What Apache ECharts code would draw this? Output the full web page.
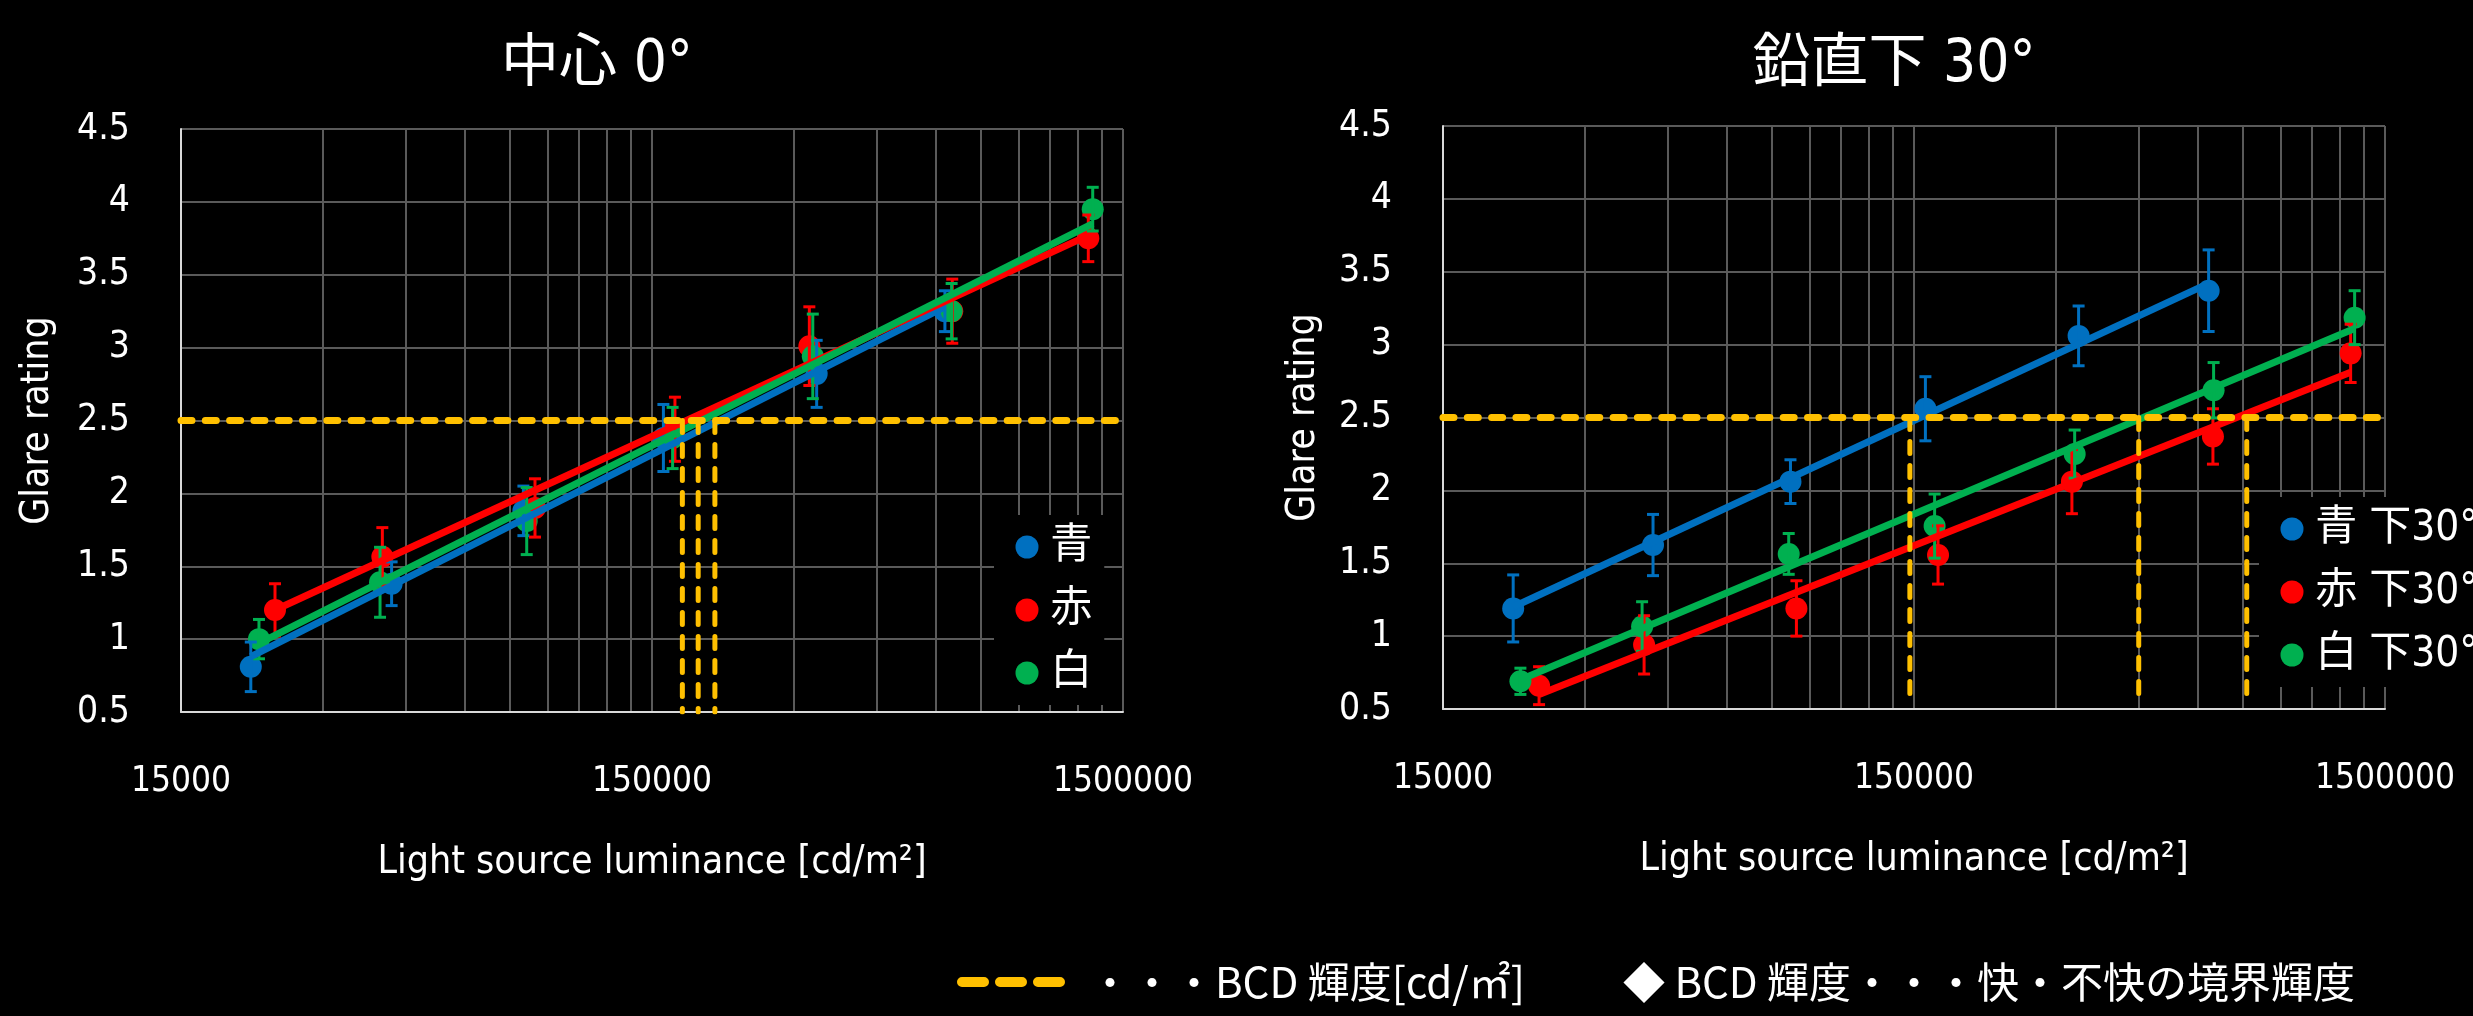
<!DOCTYPE html>
<html><head><meta charset="utf-8">
<script src="https://cdn.jsdelivr.net/npm/echarts@6/dist/echarts.min.js"></script>
<style>html,body{margin:0;padding:0;background:#000;}#c{width:2473px;height:1016px;}</style>
</head><body><div id="c"></div>
<script>
// ---------- axis / tick values ----------
const X_MIN = 15000, X_MAX = 1500000;
const xTickLabels = [15000, 150000, 1500000];
const xGridValues = [15000, 30000, 45000, 60000, 75000, 90000, 105000, 120000, 135000,
  150000, 300000, 450000, 600000, 750000, 900000, 1050000, 1200000, 1350000, 1500000];
const Y_MIN = 0.5, Y_MAX = 4.5, Y_STEP = 0.5;
const BCD_LEVEL = 2.5;

// ---------- chart 1: 中心 0° ----------
const c0Names = ['青', '赤', '白'];
const c0BlueL  = [21100, 42000, 80000, 158600, 335500, 628000];
const c0BlueG  = [0.81, 1.38, 1.88, 2.38, 2.82, 3.25];
const c0BlueE  = [0.17, 0.15, 0.17, 0.23, 0.23, 0.14];
const c0RedL   = [23750, 40140, 84660, 167800, 323700, 651000, 1266000];
const c0RedG   = [1.20, 1.565, 1.90, 2.44, 3.01, 3.25, 3.75];
const c0RedE   = [0.18, 0.20, 0.20, 0.22, 0.27, 0.22, 0.16];
const c0GreenL = [21960, 39690, 81300, 165900, 329200, 649000, 1293600];
const c0GreenG = [1.00, 1.39, 1.81, 2.38, 2.94, 3.25, 3.95];
const c0GreenE = [0.135, 0.24, 0.23, 0.21, 0.29, 0.19, 0.15];
const c0BlueFit  = [[21100, 0.88], [628000, 3.28]];
const c0RedFit   = [[23750, 1.20], [1266000, 3.77]];
const c0GreenFit = [[21960, 0.97], [1293600, 3.85]];
const c0BcdL = [174000, 188000, 204000];
const c0BcdBottom = 0.5;

// ---------- chart 2: 鉛直下 30° ----------
const c1Names = ['青 下30°', '赤 下30°', '白 下30°'];
const c1BlueL  = [21140, 41880, 82000, 158600, 335400, 633300];
const c1BlueG  = [1.19, 1.625, 2.06, 2.56, 3.06, 3.37];
const c1BlueE  = [0.23, 0.21, 0.15, 0.22, 0.205, 0.28];
const c1RedL   = [23990, 40090, 84420, 168700, 324600, 646800, 1268000];
const c1RedG   = [0.66, 0.94, 1.19, 1.557, 2.06, 2.37, 2.94];
const c1RedE   = [0.13, 0.20, 0.19, 0.20, 0.22, 0.19, 0.20];
const c1GreenL = [21900, 39700, 81300, 165900, 329000, 648900, 1293000];
const c1GreenG = [0.69, 1.066, 1.564, 1.755, 2.249, 2.687, 3.185];
const c1GreenE = [0.09, 0.17, 0.14, 0.22, 0.165, 0.19, 0.185];
const c1BlueFit  = [[21140, 1.20], [633300, 3.42]];
const c1RedFit   = [[23990, 0.60], [1268000, 2.81]];
const c1GreenFit = [[21900, 0.70], [1293000, 3.11]];
const c1BcdL = [147000, 450000, 763000];
const c1BcdBottom = 0.55;

// ---------- styles ----------
const BLUE = '#0070C0', RED = '#FF0000', GREEN = '#00B050', YELLOW = '#FFC000';
const GRIDC = '#5a5a5a', AXISC = '#d9d9d9';
const LATIN = "'DejaVu Sans Condensed', 'DejaVu Sans', 'Noto Sans CJK JP', sans-serif";
const CJK = "'Noto Sans CJK JP', sans-serif";

function errRender(params, api) {
  const x = api.value(0), lo = api.value(1), hi = api.value(2);
  const p1 = api.coord([x, hi]), p2 = api.coord([x, lo]);
  const color = api.visual('color');
  const w = 6, st = {stroke: color, lineWidth: 3};
  return {type: 'group', children: [
    {type: 'line', shape: {x1: p1[0], y1: p1[1], x2: p2[0], y2: p2[1]}, style: st},
    {type: 'line', shape: {x1: p1[0] - w, y1: p1[1], x2: p1[0] + w, y2: p1[1]}, style: st},
    {type: 'line', shape: {x1: p2[0] - w, y1: p2[1], x2: p2[0] + w, y2: p2[1]}, style: st}
  ]};
}

function seriesFor(gi, name, color, L, G, E, fit) {
  return [
    {type: 'scatter', name: name, xAxisIndex: gi, yAxisIndex: gi, z: 2,
     data: L.map((x, j) => [x, G[j]]), symbol: 'circle', symbolSize: 22,
     itemStyle: {color: color, opacity: 1}, silent: true},
    {type: 'custom', name: name + ' err', xAxisIndex: gi, yAxisIndex: gi, z: 3,
     data: L.map((x, j) => [x, G[j] - E[j], G[j] + E[j]]), encode: {x: 0, y: [1, 2]},
     renderItem: errRender, itemStyle: {color: color}, silent: true},
    {type: 'line', name: name + ' fit', xAxisIndex: gi, yAxisIndex: gi, z: 4,
     data: fit, symbol: 'none', lineStyle: {color: color, width: 7}, silent: true}
  ];
}
function bcdSeries(gi, xs, bottom) {
  const out = [{type: 'line', xAxisIndex: gi, yAxisIndex: gi, z: 5, symbol: 'none', silent: true,
    data: [[X_MIN, BCD_LEVEL], [X_MAX, BCD_LEVEL]],
    lineStyle: {color: YELLOW, width: 7, type: [11, 13.3], cap: 'round'}}];
  xs.forEach(x => out.push({type: 'line', xAxisIndex: gi, yAxisIndex: gi, z: 5, symbol: 'none', silent: true,
    data: [[x, BCD_LEVEL], [x, bottom]],
    lineStyle: {color: YELLOW, width: 5, type: [12, 12], cap: 'round'}}));
  return out;
}

function xAxis(gi) {
  return {type: 'log', logBase: 10, gridIndex: gi, min: X_MIN, max: X_MAX,
    name: 'Light source luminance [cd/m²]', nameLocation: 'middle', nameGap: 131,
    nameTextStyle: {color: '#fff', fontSize: 39, lineHeight: 39, fontFamily: LATIN},
    axisLine: {show: true, lineStyle: {color: AXISC, width: 2}},
    axisTick: {show: false, customValues: xGridValues},
    axisLabel: {customValues: xTickLabels, color: '#fff', fontSize: 35, lineHeight: 35, margin: 52,
      fontFamily: LATIN, formatter: v => String(Math.round(v))},
    splitLine: {show: true, lineStyle: {color: GRIDC, width: 2}}};
}
function yAxis(gi, gap) {
  return {type: 'value', gridIndex: gi, min: Y_MIN, max: Y_MAX, interval: Y_STEP,
    name: 'Glare rating', nameLocation: 'middle', nameGap: gap,
    nameTextStyle: {color: '#fff', fontSize: 39, lineHeight: 39, fontFamily: LATIN},
    axisLine: {show: true, lineStyle: {color: AXISC, width: 2}},
    axisTick: {show: false},
    axisLabel: {color: '#fff', fontSize: 37, margin: 51, fontFamily: LATIN},
    splitLine: {show: true, lineStyle: {color: GRIDC, width: 2}}};
}
function legend(left, top, names) {
  return {orient: 'vertical', left: left, top: top, data: names, icon: 'circle',
    itemWidth: 36.5, itemHeight: 23, itemGap: 21, padding: [11, 12, 11, 21.5],
    backgroundColor: '#000', selectedMode: false,
    textStyle: {color: '#fff', fontSize: 42, lineHeight: 42, fontFamily: LATIN}};
}

const chart = echarts.init(document.getElementById('c'), null, {width: 2473, height: 1016});
chart.setOption({
  backgroundColor: '#000',
  animation: false,
  grid: [
    {left: 181, top: 129, width: 942, height: 583},
    {left: 1443, top: 126, width: 942, height: 583}
  ],
  xAxis: [xAxis(0), xAxis(1)],
  yAxis: [yAxis(0, 124), yAxis(1, 120)],
  legend: [legend(994, 515, c0Names), legend(2259, 497, c1Names)],
  series: [].concat(
    seriesFor(0, c0Names[0], BLUE, c0BlueL, c0BlueG, c0BlueE, c0BlueFit),
    seriesFor(0, c0Names[1], RED, c0RedL, c0RedG, c0RedE, c0RedFit),
    seriesFor(0, c0Names[2], GREEN, c0GreenL, c0GreenG, c0GreenE, c0GreenFit),
    bcdSeries(0, c0BcdL, c0BcdBottom),
    seriesFor(1, c1Names[0], BLUE, c1BlueL, c1BlueG, c1BlueE, c1BlueFit),
    seriesFor(1, c1Names[1], RED, c1RedL, c1RedG, c1RedE, c1RedFit),
    seriesFor(1, c1Names[2], GREEN, c1GreenL, c1GreenG, c1GreenE, c1GreenFit),
    bcdSeries(1, c1BcdL, c1BcdBottom)
  ),
  graphic: [
    {type: 'text', x: 597, y: 66, style: {text: '中心 0°', fill: '#fff', fontSize: 58, fontFamily: LATIN, align: 'center', verticalAlign: 'middle'}},
    {type: 'text', x: 1894, y: 66, style: {text: '鉛直下 30°', fill: '#fff', fontSize: 58, fontFamily: LATIN, align: 'center', verticalAlign: 'middle'}},
    {type: 'line', shape: {x1: 962, y1: 982, x2: 1065, y2: 982}, style: {stroke: YELLOW, lineWidth: 10, lineDash: [22, 16], lineCap: 'round'}},
    {type: 'text', x: 1089, y: 982, style: {text: '・・・BCD 輝度[cd/㎡]', fill: '#fff', fontSize: 42, fontFamily: CJK, align: 'left', verticalAlign: 'middle'}},
    {type: 'text', x: 1623, y: 982, style: {text: '◆ BCD 輝度・・・快・不快の境界輝度', fill: '#fff', fontSize: 42, fontFamily: CJK, align: 'left', verticalAlign: 'middle'}}
  ]
});
</script></body></html>
